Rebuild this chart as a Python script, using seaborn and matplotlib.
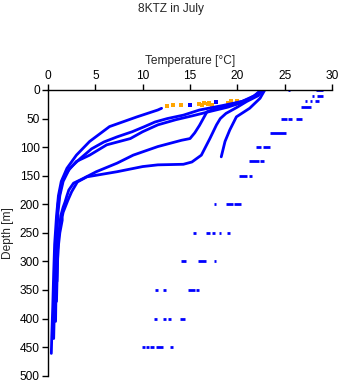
import matplotlib
matplotlib.use("Agg")
import matplotlib.pyplot as plt
import seaborn as sns
import pandas as pd
import numpy as np

# ---- data: temperature profiles (temp in degC, depth in m) ----
p1_depth = [32, 35, 47, 64, 90, 114, 137, 160, 185, 220, 270, 320, 380, 430, 461]
p1_temp = [12.0, 11.6, 9.4, 6.5, 4.4, 3.0, 2.0, 1.4, 1.1, 0.9, 0.7, 0.6, 0.5, 0.4, 0.35]

p2_depth = [0, 8, 15, 20, 27, 35, 44, 50, 56, 64, 73, 82, 91, 103, 120, 137, 155, 175, 200, 250, 300, 350, 400, 435]
p2_temp = [22.6, 22.0, 21.3, 20.5, 18.5, 16.0, 14.3, 12.6, 11.3, 10.2, 8.9, 7.3, 5.9, 4.6, 3.4, 2.3, 1.6, 1.3, 1.05, 0.9, 0.75, 0.7, 0.65, 0.6]

p3_depth = [0, 10, 20, 30, 38, 45, 52, 61, 73, 85, 96, 114, 125, 140, 160, 185, 215, 250, 300, 350, 405]
p3_temp = [22.8, 22.0, 20.8, 19.0, 17.0, 15.3, 13.5, 11.6, 10.0, 8.7, 6.2, 4.4, 3.0, 2.2, 1.6, 1.25, 1.05, 0.95, 0.9, 0.85, 0.8]

p4_depth = [0, 10, 20, 27, 32, 38, 50, 62, 75, 85, 88, 99, 114, 128, 143, 155, 163, 175, 185, 196, 205, 220, 250, 300, 370]
p4_temp = [22.5, 21.8, 20.5, 19.0, 17.8, 16.8, 16.4, 16.0, 15.5, 15.0, 14.1, 11.6, 9.0, 7.3, 5.1, 3.7, 2.7, 2.2, 2.0, 1.8, 1.6, 1.35, 1.15, 1.0, 0.9]

p5_depth = [0, 10, 20, 30, 41, 50, 61, 85, 114, 126, 130, 131, 134, 143, 152, 161, 178, 193, 214, 222, 228, 250, 280, 335]
p5_temp = [22.7, 22.2, 21.0, 20.0, 18.8, 18.2, 17.8, 17.1, 16.2, 15.2, 14.3, 11.6, 10.0, 7.3, 4.1, 3.1, 2.5, 2.1, 1.6, 1.5, 1.5, 1.25, 1.05, 0.95]

p6_depth = [0, 14.5, 32, 47, 70, 90, 117]
p6_temp = [22.9, 22.4, 21.3, 19.9, 19.2, 18.7, 18.3]

# sparse near-surface points
orange_temp = [12.6, 13.2, 14.0, 16.0, 16.3, 16.5, 16.9, 17.0, 17.3, 19.0, 19.3, 19.8, 20.0, 20.3]
orange_depth = [27.5, 27, 26.5, 25, 27, 22.5, 24, 22, 26, 22, 20, 24, 19, 22.5]
blue_dot_temp = [15.0, 17.7]
blue_dot_depth = [26, 20.5]

# values at standard depths (depth, start, end)
std_depth = [0, 0, 10, 10, 20, 20, 20, 30, 50, 50, 50, 75, 100, 100, 125, 125, 150, 150,
             200, 200, 200, 250, 250, 250, 250, 250, 300, 300, 300,
             350, 350, 350, 350, 400, 400, 400, 400, 450, 450, 450, 450, 450]
std_tmin = [25.4, 28.3, 27.9, 28.4, 27.1, 27.7, 28.2, 26.7, 24.6, 25.4, 26.2, 23.5, 22.0, 22.7, 21.2, 22.4, 20.2, 21.2,
            17.5, 18.8, 19.7, 15.3, 16.7, 17.3, 18.1, 18.9, 14.0, 15.8, 17.5,
            11.3, 12.2, 14.8, 15.6, 11.2, 12.2, 12.7, 13.9, 9.9, 10.3, 10.8, 11.4, 12.9]
std_tmax = [25.6, 29.0, 28.1, 29.1, 27.4, 27.9, 28.6, 27.8, 25.2, 25.8, 26.8, 25.1, 22.5, 23.5, 22.3, 22.8, 21.0, 21.6,
            17.7, 19.5, 20.4, 15.6, 17.1, 17.6, 18.3, 19.2, 14.6, 16.7, 17.7,
            11.6, 12.5, 15.5, 15.9, 11.5, 12.5, 13.0, 14.5, 10.2, 10.7, 11.2, 12.2, 13.2]

x_ticks = [0, 5, 10, 15, 20, 25, 30]
y_ticks = [0, 50, 100, 150, 200, 250, 300, 350, 400, 450, 500]

# ---- build tables ----
profiles = [(p1_temp, p1_depth), (p2_temp, p2_depth), (p3_temp, p3_depth),
            (p4_temp, p4_depth), (p5_temp, p5_depth), (p6_temp, p6_depth)]
rows = []
for i, (t, d) in enumerate(profiles):
    for k, (tt, dd) in enumerate(zip(t, d)):
        rows.append({"profile": i, "order": k, "temp": tt, "depth": dd})
prof_df = pd.DataFrame(rows)

drows = []
for i, (d, a, b) in enumerate(zip(std_depth, std_tmin, std_tmax)):
    drows.append({"seg": i, "temp": a, "depth": d})
    drows.append({"seg": i, "temp": b, "depth": d})
dash_df = pd.DataFrame(drows)

orange_df = pd.DataFrame({"temp": orange_temp, "depth": orange_depth})
bdot_df = pd.DataFrame({"temp": blue_dot_temp, "depth": blue_dot_depth})

# ---- style ----
sns.set_style("ticks")
plt.rcParams["font.family"] = ["Liberation Sans", "DejaVu Sans"]
plt.rcParams["font.size"] = 8.6

W, H = 341, 384
fig = plt.figure(figsize=(W / 100, H / 100), dpi=100)
ax = fig.add_axes([48 / W, 1 - 375.7 / H, (332 - 48) / W, (375.7 - 90) / H])

blue = "#0000ff"
sns.lineplot(data=prof_df, x="temp", y="depth", units="profile", estimator=None,
             sort=False, color=blue, linewidth=2.0, ax=ax)
sns.lineplot(data=dash_df, x="temp", y="depth", units="seg", estimator=None,
             sort=False, color=blue, linewidth=2.0, ax=ax, solid_capstyle="butt")
sns.scatterplot(data=bdot_df, x="temp", y="depth", color=blue, marker="s", s=7,
                linewidth=0, ax=ax)
sns.scatterplot(data=orange_df, x="temp", y="depth", color="#ffa500", marker="s", s=7,
                linewidth=0, ax=ax)

ax.set_xlim(0, 30)
ax.set_ylim(500, 0)
ax.set_xticks(x_ticks)
ax.set_yticks(y_ticks)
ax.xaxis.tick_top()
ax.xaxis.set_label_position("top")
ax.spines["right"].set_visible(False)
ax.spines["bottom"].set_visible(False)
for s in ("left", "top"):
    ax.spines[s].set_linewidth(1.0)
    ax.spines[s].set_color("black")
ax.tick_params(axis="both", direction="out", length=4, width=1.0, colors="black",
               labelsize=8.6, pad=2)
ax.set_xlabel("Temperature [°C]", fontsize=8.6, labelpad=4)
ax.set_ylabel("Depth [m]", fontsize=8.6, labelpad=4)
ax.margins(0)

fig.text(0.5, 1 - 9 / H, "8KTZ in July", ha="center", va="center", fontsize=8.6)

fig.savefig("out.png", dpi=100)
